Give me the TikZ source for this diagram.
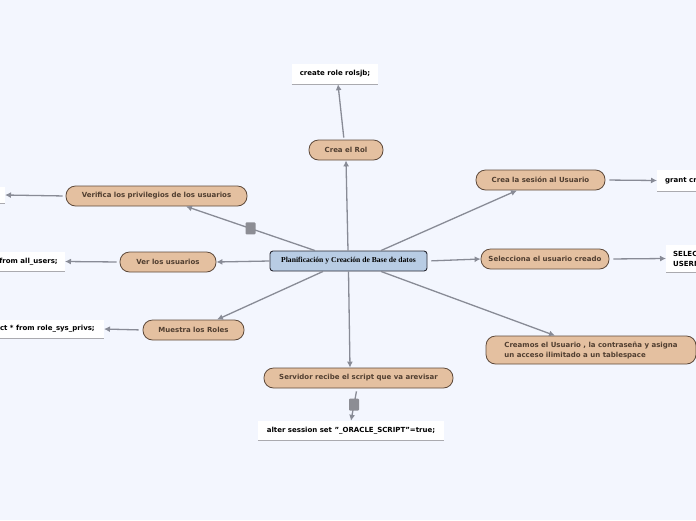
\documentclass[tikz,border=0pt]{standalone}
\usepackage{fontspec}
\setmainfont{DejaVu Sans}
\newfontfamily\serifc{Liberation Serif}
\usetikzlibrary{arrows.meta}
\definecolor{bg}{RGB}{243,246,254}
\definecolor{topicfill}{RGB}{228,192,160}
\definecolor{topicdraw}{RGB}{95,75,60}
\definecolor{topictext}{RGB}{80,62,48}
\definecolor{centralfill}{RGB}{184,204,228}
\definecolor{centraldraw}{RGB}{40,40,50}
\definecolor{conn}{RGB}{136,139,150}
\definecolor{sq}{RGB}{140,141,148}
\definecolor{ul}{RGB}{170,170,175}
\begin{document}
\begin{tikzpicture}[x=1pt,y=-1pt,
 topic/.style={draw=topicdraw, fill=topicfill, line width=0.8pt, rounded corners=9.5pt, minimum height=20pt, inner sep=0pt, font=\fontsize{7}{10}\selectfont\bfseries, text=topictext},
 central/.style={draw=centraldraw, fill=centralfill, line width=0.9pt, rounded corners=3pt, minimum height=20pt, minimum width=157pt, inner sep=0pt, font=\serifc\fontsize{7.6}{9}\selectfont\bfseries},
 codebox/.style={fill=white, inner xsep=8pt, inner ysep=0pt, minimum height=20pt, font=\fontsize{7}{10}\selectfont\bfseries, text=black},
 link/.style={draw=conn, line width=1.3pt, -{Latex[length=6pt,width=6pt]}},
 knob/.style={fill=sq, rounded corners=1pt, minimum width=10pt, minimum height=12pt, inner sep=0pt},
 uline/.style={draw=ul, line width=0.9pt}
]
\useasboundingbox (0,0) rectangle (696,520);
\fill[bg] (0,0) rectangle (696,520);
\clip (0,0) rectangle (696,520);

\node[central] (c) at (348.5,261) {Planificación y Creación de Base de datos};
\node[topic, minimum width=74pt] (rol) at (346,150) {Crea el Rol};
\node[codebox, minimum width=86pt] (create) at (335,74) {create role rolsjb;};
\node[topic, minimum width=129pt] (ses) at (540.5,180) {Crea la sesión al Usuario};
\node[codebox, anchor=west, minimum height=22pt] (grant) at (657,180.5) {grant create session};
\node[topic, minimum width=128pt] (sel) at (545,259) {Selecciona el usuario creado};
\node[codebox, anchor=west, minimum height=27pt, inner xsep=7pt, align=left] (selq) at (666,258.5) {SELECT\\USERNAME};
\node[topic, minimum width=210pt, minimum height=28pt, align=left] (crea) at (591,350) {Creamos el Usuario , la contraseña y asigna\\un acceso ilimitado a un tablespace};
\node[topic, minimum width=189pt] (serv) at (358.5,378) {Servidor recibe el script que va arevisar};
\node[codebox, minimum width=186pt, minimum height=19pt] (alter) at (351,430.5) {alter session set "\_ORACLE\_SCRIPT"=true;};
\node[topic, minimum width=101pt] (mue) at (193.5,330) {Muestra los Roles};
\node[codebox, anchor=east, minimum height=18pt, inner xsep=9pt] (rq) at (104,329) {select * from role\_sys\_privs;};
\node[topic, minimum width=96pt] (ver) at (168,262) {Ver los usuarios};
\node[codebox, anchor=east, minimum height=19pt, inner xsep=7pt] (uq) at (65,261.5) {select * from all\_users;};
\node[topic, minimum width=181pt] (priv) at (156.5,196) {Verifica los privilegios de los usuarios};
\node[codebox, anchor=east, minimum width=40pt, minimum height=16pt] (pq) at (5,195) {};

\foreach \b in {create,grant,selq,alter,rq,uq,pq}
  \draw[uline] (\b.south west) -- (\b.south east);

\draw[link] ([xshift=-0.5pt]c.north) -- (rol.south);
\draw[link, shorten <=2pt] ([xshift=-2pt]rol.north) -- ([xshift=3pt]create.south);
\draw[link] ([xshift=32.5pt]c.north) -- ([xshift=-23.5pt]ses.south);
\draw[link, shorten <=4pt] (ses.east) -- (grant.west);
\draw[link, shorten <=4pt] (c.east) -- (sel.west);
\draw[link, shorten <=4pt] (sel.east) -- (selq.west);
\draw[link] ([xshift=32.5pt]c.south) -- ([xshift=-36pt]crea.north);
\draw[link] (c.south) -- ([xshift=-8.5pt]serv.north);
\draw[link, shorten <=3pt] ([xshift=-1.5pt]serv.south) -- node[knob]{} (alter.north);
\draw[link] ([xshift=-25.5pt]c.south) -- ([xshift=23.5pt]mue.north);
\draw[link, shorten <=4pt] (mue.west) -- (rq.east);
\draw[link] (c.west) -- (ver.east);
\draw[link, shorten <=3pt] (ver.west) -- (uq.east);
\draw[link] ([xshift=-33.5pt]c.north) -- node[knob]{} ([xshift=29.5pt]priv.south);
\draw[link, shorten <=3pt] (priv.west) -- (pq.east);
\end{tikzpicture}
\end{document}
